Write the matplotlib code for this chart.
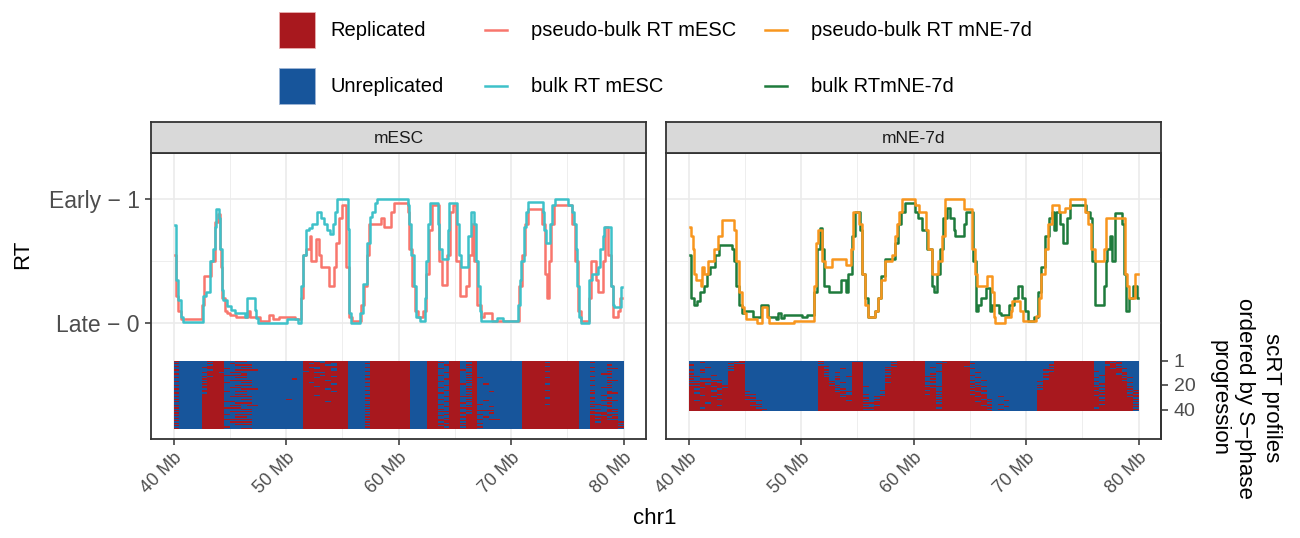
import numpy as np
import matplotlib
matplotlib.use("Agg")
import matplotlib.pyplot as plt
from matplotlib.colors import ListedColormap
from matplotlib.patches import Rectangle
from matplotlib.lines import Line2D

plt.rcParams['font.family'] = ['Liberation Sans', 'DejaVu Sans']

# RT profiles: (position in Mb, RT)
pseudo_mesc = [(40.1, 0.55), (40.3, 0.22), (40.5, 0.1), (40.8, 0.03), (42.45, 0.03), (42.55, 0.15), (42.85, 0.38),
               (43.3, 0.38), (43.45, 0.5), (43.9, 0.82), (44.05, 0.88), (44.2, 0.6), (44.25, 0.45), (44.45, 0.2),
               (44.65, 0.1), (44.95, 0.08), (45.1, 0.07), (46.0, 0.05), (46.55, 0.05), (46.7, 0.1), (46.85, 0.05),
               (47.6, 0.05), (47.75, 0.02), (48.35, 0.02), (48.65, 0.07), (48.95, 0.03), (49.25, 0.03), (49.5, 0.05),
               (50.7, 0.05), (50.85, 0.03), (51.3, 0.03), (51.45, 0.2), (51.65, 0.55), (51.9, 0.6), (52.05, 0.6),
               (52.15, 0.7), (52.35, 0.5), (52.5, 0.5), (52.8, 0.68), (53.0, 0.55), (53.2, 0.45), (53.65, 0.45),
               (53.95, 0.3), (54.2, 0.3), (54.25, 0.45), (54.55, 0.65), (54.85, 0.85), (55.1, 0.95), (55.3, 0.95),
               (55.45, 0.45), (55.75, 0.05), (55.9, 0.02), (56.5, 0.02), (56.8, 0.15), (57.05, 0.3), (57.3, 0.55),
               (57.5, 0.8), (58.4, 0.8), (58.55, 0.85), (58.85, 0.78), (59.15, 0.78), (59.45, 0.9), (59.75, 0.97),
               (60.75, 0.97), (60.9, 0.9), (61.05, 0.6), (61.35, 0.3), (61.65, 0.1), (61.8, 0.05), (62.1, 0.05),
               (62.25, 0.1), (62.55, 0.4), (62.85, 0.75), (63.15, 0.95), (63.45, 0.95), (63.75, 0.5), (63.9, 0.31),
               (64.25, 0.31), (64.45, 0.55), (64.75, 0.9), (64.95, 0.95), (65.35, 0.5), (65.65, 0.22), (65.95, 0.22),
               (66.1, 0.3), (66.4, 0.55), (66.65, 0.8), (66.85, 0.5), (67.15, 0.15), (67.45, 0.05), (67.7, 0.08),
               (68.15, 0.08), (68.45, 0.02), (70.55, 0.02), (70.85, 0.3), (71.1, 0.55), (71.4, 0.8), (71.7, 0.92),
               (72.6, 0.92), (72.9, 0.8), (73.15, 0.4), (73.25, 0.2), (73.45, 0.5), (73.65, 0.8), (73.95, 0.95),
               (75.25, 0.95), (75.55, 0.8), (75.8, 0.5), (76.1, 0.1), (76.3, 0.02), (76.9, 0.02), (77.05, 0.2),
               (77.2, 0.5), (77.5, 0.5), (77.65, 0.35), (77.8, 0.25), (78.1, 0.25), (78.2, 0.5), (78.5, 0.78),
               (78.8, 0.55), (78.95, 0.3), (79.1, 0.05), (79.4, 0.05), (79.55, 0.1), (79.85, 0.2)]

bulk_mesc = [(40.1, 0.79), (40.3, 0.35), (40.5, 0.19), (40.8, 0.05), (40.95, 0.01), (42.55, 0.01), (42.7, 0.22),
             (43.0, 0.25), (43.45, 0.5), (43.6, 0.6), (43.7, 0.78), (43.9, 0.92), (44.1, 0.85), (44.2, 0.6),
             (44.35, 0.27), (44.5, 0.19), (44.95, 0.14), (45.25, 0.11), (45.7, 0.08), (46.25, 0.08), (46.4, 0.05),
             (46.6, 0.2), (47.15, 0.2), (47.3, 0.11), (47.45, 0.04), (47.6, 0.0), (50.1, 0.0), (50.15, 0.03),
             (51.0, 0.03), (51.15, 0.0), (51.3, 0.0), (51.45, 0.3), (51.65, 0.55), (51.85, 0.75), (52.2, 0.77),
             (52.5, 0.8), (52.95, 0.9), (53.2, 0.85), (53.5, 0.8), (53.8, 0.75), (54.1, 0.72), (54.25, 0.8),
             (54.4, 0.9), (54.6, 1.0), (55.45, 1.0), (55.5, 0.76), (55.7, 0.08), (55.9, 0.0), (56.5, 0.0),
             (56.65, 0.08), (57.05, 0.32), (57.35, 0.65), (57.5, 0.86), (57.8, 0.9), (58.05, 0.97), (58.1, 1.0),
             (60.75, 1.0), (60.9, 0.95), (61.05, 0.8), (61.2, 0.55), (61.5, 0.3), (61.65, 0.05), (62.25, 0.02),
             (62.4, 0.2), (62.55, 0.5), (62.7, 0.8), (62.85, 0.97), (63.45, 0.97), (63.5, 0.8), (63.75, 0.6),
             (63.9, 0.52), (64.3, 0.52), (64.45, 0.75), (64.6, 0.97), (65.2, 0.97), (65.25, 0.8), (65.5, 0.55),
             (65.65, 0.45), (66.1, 0.45), (66.25, 0.7), (66.65, 0.9), (66.85, 0.8), (67.0, 0.5), (67.15, 0.3),
             (67.3, 0.1), (67.45, 0.02), (68.5, 0.02), (69.0, 0.04), (69.5, 0.02), (70.5, 0.02), (70.7, 0.15),
             (70.85, 0.35), (71.0, 0.5), (71.25, 0.78), (71.4, 0.9), (71.55, 0.98), (72.75, 0.98), (72.9, 0.9),
             (73.05, 0.75), (73.2, 0.65), (73.35, 0.65), (73.5, 0.8), (73.8, 0.95), (74.1, 1.0), (74.95, 1.0),
             (75.25, 0.95), (75.55, 0.9), (75.7, 0.8), (75.85, 0.6), (75.95, 0.3), (76.15, 0.05), (76.3, 0.0),
             (76.9, 0.0), (77.05, 0.35), (77.35, 0.4), (77.65, 0.4), (77.8, 0.45), (78.1, 0.6), (78.2, 0.7),
             (78.35, 0.78), (78.8, 0.78), (78.95, 0.3), (79.1, 0.15), (79.25, 0.13), (79.7, 0.13), (79.85, 0.29)]

pseudo_mne = [(40.15, 0.78), (40.3, 0.7), (40.45, 0.6), (40.6, 0.4), (40.75, 0.35), (41.05, 0.35), (41.2, 0.3),
              (41.25, 0.45), (41.5, 0.4), (42.05, 0.5), (42.5, 0.6), (42.8, 0.7), (43.1, 0.83), (43.85, 0.83),
              (44.15, 0.75), (44.35, 0.5), (44.6, 0.25), (44.9, 0.13), (45.05, 0.08), (45.2, 0.03), (46.05, 0.03),
              (46.2, 0.0), (46.5, 0.0), (46.65, 0.13), (46.9, 0.13), (47.1, 0.05), (47.25, 0.0), (49.3, 0.0),
              (49.45, 0.02), (51.1, 0.02), (51.25, 0.3), (51.4, 0.65), (51.7, 0.75), (52.0, 0.5), (52.3, 0.45),
              (52.7, 0.45), (52.85, 0.52), (53.9, 0.52), (54.05, 0.47), (54.35, 0.47), (54.5, 0.6), (54.8, 0.9),
              (55.1, 0.9), (55.25, 0.8), (55.55, 0.4), (55.85, 0.15), (56.1, 0.05), (56.4, 0.05), (56.7, 0.1),
              (57.0, 0.2), (57.3, 0.35), (57.6, 0.5), (58.05, 0.5), (58.2, 0.55), (58.5, 0.7), (58.65, 0.8),
              (58.85, 0.9), (59.1, 1.0), (60.1, 1.0), (60.25, 0.95), (60.7, 0.9), (61.0, 0.9), (61.15, 0.75),
              (61.45, 0.6), (61.75, 0.4), (62.05, 0.4), (62.35, 0.5), (62.65, 0.7), (63.0, 1.0), (64.4, 1.0),
              (64.55, 0.92), (65.15, 0.92), (65.3, 0.6), (65.6, 0.4), (65.75, 0.3), (66.5, 0.3), (66.6, 0.38),
              (66.9, 0.38), (67.05, 0.25), (67.2, 0.05), (67.35, 0.0), (67.95, 0.0), (68.25, 0.05), (68.55, 0.05),
              (68.7, 0.1), (68.85, 0.18), (69.3, 0.18), (69.6, 0.1), (69.9, 0.02), (70.75, 0.02), (71.05, 0.06),
              (71.2, 0.2), (71.5, 0.4), (71.8, 0.6), (72.1, 0.8), (72.55, 0.95), (72.85, 0.95), (73.0, 0.9),
              (73.3, 0.9), (73.6, 0.93), (74.15, 1.0), (75.2, 1.0), (75.35, 0.9), (75.65, 0.8), (75.95, 0.6),
              (76.25, 0.5), (76.85, 0.5), (77.0, 0.6), (77.15, 0.85), (78.75, 0.85), (78.9, 0.4), (79.05, 0.3),
              (79.2, 0.2), (79.5, 0.2), (79.95, 0.4)]

bulk_mne = [(40.15, 0.55), (40.3, 0.2), (40.6, 0.15), (40.9, 0.18), (41.2, 0.25), (41.5, 0.3), (41.8, 0.4),
            (42.05, 0.45), (42.2, 0.45), (42.5, 0.55), (42.95, 0.63), (43.85, 0.63), (43.95, 0.6), (44.15, 0.5),
            (44.35, 0.3), (44.6, 0.15), (44.9, 0.08), (45.2, 0.1), (45.6, 0.1), (45.9, 0.05), (46.2, 0.05),
            (46.65, 0.15), (46.95, 0.15), (47.25, 0.05), (47.7, 0.05), (47.85, 0.03), (48.0, 0.08), (48.15, 0.08),
            (48.3, 0.04), (48.6, 0.07), (49.9, 0.07), (50.2, 0.05), (50.8, 0.07), (51.1, 0.07), (51.25, 0.25),
            (51.55, 0.6), (51.75, 0.77), (52.0, 0.6), (52.15, 0.3), (52.45, 0.3), (52.6, 0.25), (53.45, 0.25),
            (53.6, 0.35), (53.9, 0.35), (54.05, 0.25), (54.35, 0.4), (54.65, 0.7), (55.0, 0.9), (55.2, 0.9),
            (55.3, 0.75), (55.55, 0.4), (55.85, 0.2), (56.1, 0.05), (56.4, 0.05), (56.7, 0.1), (57.0, 0.2),
            (57.3, 0.38), (57.6, 0.52), (58.2, 0.52), (58.5, 0.65), (58.8, 0.8), (59.0, 0.9), (59.4, 0.97),
            (59.95, 0.97), (60.25, 0.9), (60.55, 0.85), (61.0, 0.75), (61.45, 0.6), (61.75, 0.3), (61.9, 0.25),
            (62.2, 0.4), (62.5, 0.6), (62.8, 0.85), (63.1, 0.93), (63.35, 0.85), (63.5, 0.85), (63.65, 0.75),
            (63.8, 0.7), (64.4, 0.7), (64.55, 0.8), (64.85, 0.9), (65.15, 0.9), (65.45, 0.5), (65.6, 0.1),
            (65.9, 0.15), (66.05, 0.2), (66.35, 0.2), (66.6, 0.28), (66.75, 0.28), (66.9, 0.1), (67.05, 0.15),
            (67.5, 0.15), (67.65, 0.08), (67.95, 0.07), (68.4, 0.07), (68.55, 0.15), (68.85, 0.15), (69.1, 0.2),
            (69.45, 0.3), (69.75, 0.2), (70.05, 0.1), (70.35, 0.02), (70.6, 0.02), (70.9, 0.05), (71.2, 0.25),
            (71.5, 0.45), (71.8, 0.7), (72.25, 0.85), (72.4, 0.9), (72.55, 0.75), (72.85, 0.9), (73.15, 0.8),
            (73.45, 0.65), (73.75, 0.85), (74.15, 0.95), (75.2, 0.95), (75.5, 0.9), (75.8, 0.85), (75.95, 0.5),
            (76.25, 0.15), (76.85, 0.15), (77.0, 0.3), (77.15, 0.5), (77.3, 0.6), (77.6, 0.7), (77.75, 0.5),
            (78.05, 0.89), (78.35, 0.89), (78.65, 0.8), (78.75, 0.4), (79.05, 0.1), (79.2, 0.2), (79.8, 0.3),
            (79.95, 0.2)]

# single-cell profiles, 0.5 Mb bins from 40 Mb; X = replicated, . = unreplicated
# each row is split into segments of the widths below (bins)
bin_start = 40.0
bin_size = 0.5
mesc_widths = [5, 4, 6, 8, 8, 3, 1, 7, 3, 2, 2, 2, 4, 7, 10, 2, 6]
mesc_cells = [
    "X.... .XXX ..XX.. ........ XX..XXXX ... . XXXXXXX ... XX .. XX .XX. ....... XXXXXXXXXX .. ......",
    "..... ..XX ...... ........ XXX.XXXX ... . XXXXXXX ... XX X. XX ..X. ....... XXXX.XXXXX .. X.....",
    "X.... .XXX .X.... ........ X.XXX.XX ... X XXXXXXX ... XX .. XX ..X. ....... XXXXXXXXXX .. ......",
    "..... ..XX ..XXX. ........ XXXX..XX ... . XXXXXXX ... XX .X XX .XX. ....... XXXXXXXXXX .. ...X..",
    "X.... .XXX ...... ........ XXXXXXXX ... . XXXXXXX ... XX .. XX ..X. ....... XXXX.XXXXX .. ......",
    "..... XXXX ...XX. ........ X..XXXXX ... X XXXXXXX ... XX .. XX .XX. ....... XXXXXXXXXX .. X.....",
    "..... .XXX X..... ........ XX.XX.XX ... . XXXXXXX ... XX X. XX ..X. ....... XXXXXXXXXX .. ...XX.",
    "X.... ..XX ..XXXX ........ XXXXX.XX ... . XXXXXXX ... XX .. XX X.X. ....... XXXXXXXXXX .. ......",
    "..... .XXX ...... ........ .XXXXXXX ... X XXXXXXX ... XX .. XX ..X. ....... XXXX.XXXXX .. X..X..",
    "..... XXX. .XX... ........ XX..XXXX ... . XXXXXXX ... XX .X XX .XX. ....... XXXXXXXXXX .. ......",
    "X.... .XXX ...X.. ........ XXXXXXXX ... . XXXXXXX ... XX .. XX ..X. ....... XXXXXXXXXX .. ..XX..",
    "..... .XXX XXXX.. ........ XXX.XXXX ... X XXXXXXX ... XX X. XX .XX. ....... XXXXXXXXXX .. ......",
    "..... X.XX ...... ........ XXXXX.XX ... . XXXXXXX ... XX .. XX ..X. ....... XXXXXXXXXX .. X.....",
    "X.... .XXX ..XX.. ........ XX.XXXXX ... . XXXXXXX ... XX .. XX .XXX ....... XXXX.XXXXX .. ...X..",
    "..... XXXX ...... ......X. XXXXXXXX ... X XXXXXXX ... XX .X XX ..X. ....... XXXXXXXXXX .. ......",
    "..... .XXX .XXXX. ........ XXXX.XXX ... . XXXXXXX ... XX .. XX .XX. ....... XXXXXXXXXX .. X..XX.",
    "X.... XXXX ...... ........ XXXXXXXX ... . XXXXXXX ... XX X. XX ..X. ....... XXXXXXXXXX .. ......",
    "..... .XXX X..XX. ........ X.XXXXXX ... X XXXXXXX ... XX .. XX .XX. ....... XXXXXXXXXX .. ...X..",
    "..... XXXX ...... ........ XXXXX.XX ... . XXXXXXX ... XX .. XX X.X. X...... XXXX.XXXXX .. ......",
    "X.... .XXX ..XXX. ........ XXXXXXXX ... . XXXXXXX ... XX .X XX ..X. ....... XXXXXXXXXX .. X..X..",
    "..... XXXX ...... ........ XX.XXXXX ... X XXXXXXX ... XX .. XX .XX. ....... XXXXXXXXXX .. ......",
    "..... XXXX .XX... ........ XXXXXXXX ... . XXXXXXX ... XX X. XX ..X. ....... XXXXXXXXXX .. ..XX..",
    "X.... .XXX ...XXX ........ XXXX.XXX ... . XXXXXXX ... XX .. XX .XX. ....... XXXXXXXXXX .. ......",
    "..... XXXX ...... ........ XXXXXXXX ... X XXXXXXX ... XX .X XX ..X. ....... XXXX.XXXXX .. X.....",
    "..... XXXX X.XX.. ........ XXXXX.XX ... . XXXXXXX ... XX .. XX .XX. .X..... XXXXXXXXXX .. ...X..",
    "X.... .XXX ...... ........ XXXXXXXX ... . XXXXXXX ... XX X. XX ..X. ....... XXXXXXXXXX .. X..XX.",
    "..... XXXX ..XX.. ........ XXXXXXXX ... X XXXXXXX ... XX .. XX .XX. ....... XXXXXXXXXX .. ......",
    "..... XXXX ...... ........ XX.XXXXX ... . XXXXXXX ... XX .. XX ..X. ....... XXXXXXXXXX .. ..X...",
    "X.... XXXX .XXXX. ........ XXXXXXXX ... . XXXXXXX ... XX .X XX XXX. ....... XXXXXXXXXX .. ......",
    "..... XXXX ...... ........ XXXXXXXX ... X XXXXXXX ... XX .. XX ..X. ....... XXXX.XXXXX .. X..X..",
    "X.... XXXX ...XX. .....X.. XXXXXXXX ... . XXXXXXX ... XX X. XX .XX. ....... XXXXXXXXXX .. ......",
    "..... XXXX ...... ........ XXXXXXXX ... X XXXXXXX ... XX .. XX ..X. X...... XXXXXXXXXX .. ..XXX.",
    "X.... XXXX XX.... ........ XXXX.XXX ... . XXXXXXX ... XX .X XX .XX. ....... XXXXXXXXXX .. X.....",
    "..... XXXX ..XXX. ........ XXXXXXXX ... . XXXXXXX ... XX .. XX X.X. ....... XXXXXXXXXX .. ...X..",
    "..... XXXX ...... ........ XXXXXXXX ... X XXXXXXX ... XX X. XX ..XX ....... XXXX.XXXXX .. XX....",
    "X.... XXXX .XX.XX ........ XXXXXXXX ... . XXXXXXX ... XX .. XX .XX. ....... XXXXXXXXXX .. ..XX..",
    "..... XXXX ...... ........ XXXXXXXX ... X XXXXXXX ... XX .X XX ..X. .X..... XXXXXXXXXX .. X..X..",
    "X.... XXXX XXX... ........ XXXXXXXX ... . XXXXXXX ... XX .. XX XXX. ....... XXXXXXXXXX .. ......",
    "..... XXXX ...XX. ........ XXXXXXXX ... X XXXXXXX ... XX X. XX .XX. ....... XXXXXXXXXX .. XX.XX.",
    "X.... XXXX ...... ........ XXXXXXXX ... . XXXXXXX ... XX .. XX ..XX XX..... XXXXXXXXXX .. ...X..",
    "..... XXXX .XXXX. ........ XXXXXXXX ... X XXXXXXX ... XX XX XX .XX. ....... XXXXXXXXXX .. X..XX.",
    "X.... XXXX ...... ........ XXXXXXXX ... . XXXXXXX ... XX .. XX X.X. .X..... XXXXXXXXXX .. XXX...",
    "..... XXXX X.XXX. ........ XXXXXXXX ... X XXXXXXX ... XX .X XX .XXX ....... XXXXXXXXXX .. ..XXX.",
    "X.... XXXX ...... ........ XXXXXXXX ... . XXXXXXX ... XX X. XX .XX. ....... XXXXXXXXXX .. X..X..",
    "..... XXXX ..XX.. ........ XXXXXXXX ... X XXXXXXX ... XX .. XX XXX. X...... XXXXXXXXXX .. XXX.X.",
    "X.... XXXX ...... ........ XXXXXXXX ... . XXXXXXX ... XX .X XX .XX. ....... XXXXXXXXXX .. X.XXX.",
    "..... XXXX XXXXX. ........ XXXXXXXX ... X XXXXXXX ... XX X. XX .XXX .XX.... XXXXXXXXXX .. XXX...",
    "X.... XXXX ...... ........ XXXXXXXX ... . XXXXXXX ... XX XX XX XXX. ....... XXXXXXXXXX .. XXXXX.",
    "..... XXXX .XXXX. ........ XXXXXXXX ... X XXXXXXX ... XX .X XX .XX. ....... XXXXXXXXXX .. X.XXXX",
    "X.... XXXX ...... ........ XXXXXXXX ... . XXXXXXX ... XX X. XX XXXX ....... XXXXXXXXXX .. XXXXX.",
    "..... XXXX ..XXX. ........ XXXXXXXX ... X XXXXXXX ... XX XX XX .XX. ....... XXXXXXXXXX .. XXXXXX",
    "X.... XXXX ...... ........ XXXXXXXX ... . XXXXXXX ... XX .X XX XXX. ....... XXXXXXXXXX .. XXXXX.",
    "..... XXXX X..... ........ XXXXXXXX ... X XXXXXXX ... XX X. XX .XXX ....... XXXXXXXXXX .. XXXXXX",
    "X.... XXXX ...XX. ........ XXXXXXXX ... . XXXXXXX ... XX XX XX XXX. ....... XXXXXXXXXX .. XXXXX.",
]
mne_widths = [7, 3, 13, 9, 3, 3, 4, 3, 5, 5, 7, 3, 7, 2, 6]
mne_cells = [
    "....... ..X ............. X........ ... ..X XXXX ... XXXXX ..... ....... ... XXXXXXX .. XX....",
    "..X.... .XX ............. ......XX. ... .XX XXXX ... .XXXX ..... ....... ... XXXXXXX .. X.X...",
    "....... X.. ............. X.....XX. ... ..X XXXX ..X XXXXX X.... ....... ... XXXXXXX .. XXX...",
    "X...... .XX ............. ......XX. ... .XX XXXX ... XXXXX ..... ....... ..X XXXXXXX .. .X....",
    "....... XXX ............. XX....XX. ... ..X XXXX ... XXXX. ..... ....... ... XXXXXXX .. XXX...",
    "...X... .XX ............. X.....XX. ... XXX XXXX .X. XXXXX ..... ....... ..X XXXXXXX .. XX....",
    "....... XXX ............. X...X.XX. ... .XX XXXX ... XXXXX X.... ....... ... XXXXXXX .. X.XX..",
    "X.X.... .XX ............. XX....XX. ... XXX XXXX ... XXXXX ..... ....... .XX XXXXXXX .. XXX...",
    "....... XXX ............. X.....XX. ... .XX XXXX ..X XXXXX ..... ....... ... XXXXXXX X. XXX...",
    "..X.... XXX ............. XX.X..XX. ... XXX XXXX ... XXXXX .X... ....... ..X XXXXXXX .. XXXX..",
    "X...... XXX ............. X.....XX. ... .XX XXXX .X. XXXXX ..... ....... .XX XXXXXXX .. XX.X..",
    "....X.. XXX ............. XX....XX. ... XXX XXXX ... XXXXX X.... ....... ..X XXXXXXX .X XXX...",
    "XX..... XXX ............. X..X.XXX. ... XXX XXXX XX. XXXXX ..... ....... .XX XXXXXXX .. XXXX..",
    "....... XXX ............. XX....XX. ... .XX XXXX ... XXXXX .X... ....... .XX XXXXXXX X. XXX.X.",
    "X.XX... XXX ............. XX.X..XX. ... XXX XXXX .X. XXXXX ..... ....... ..X XXXXXXX .. XXXX..",
    "....XX. XXX ............. XX....XX. ... XXX XXXX ... XXXXX X.X.. ....... .XX XXXXXXX .. XXX...",
    "XX..... XXX ............. XXX...XX. ... XXX XXXX XX. XXXXX ..... ....... XXX XXXXXXX X. XXXX..",
    "..XXX.. XXX ............. XX..X.XX. ... .XX XXXX .X. XXXXX .X... ....... .XX XXXXXXX .. XXXXX.",
    "XXX.XX. XXX ............. XXX...XX. ... XXX XXXX ... XXXXX X.... ....... .XX XXXXXXX .X XXXX..",
    "..XXXXX XXX ............. XX.X..XX. ... XXX XXXX XX. XXXXX .X... ....... XXX XXXXXXX X. XXXX..",
    "XXXX.XX XXX ............. XXX...XXX ... XXX XXXX .XX XXXXX X.X.. ....... .XX XXXXXXX .. XXXXX.",
    "XX.XXX. XXX ............. XXXX..XX. ... XXX XXXX X.. XXXXX .X... ....... XXX XXXXXXX XX XXXX..",
    "X.XXX.X XXX ............. XXX.X.XX. ... XXX XXXX XX. XXXXX XX... ....... .XX XXXXXXX X. XXXXX.",
    "XXXX.XX XXX ............. XXXX..XX. ..X XXX XXXX .X. XXXXX .XX.. ....... XXX XXXXXXX .X XXXX.X",
    "XXXX.XX XXX X............ XXX.XXXX. ... XXX XXXX XXX XXXXX X.X.. ....... XXX XXXXXXX X. XXXXX.",
    "X.XXXXX XXX ............. XXXXX.XX. ... XXX XXXX XX. XXXXX XX... ....... XXX XXXXXXX XX XXXX.X",
    "XXXXX.X XXX XX........... XXXX..XXX ..X XXX XXXX .XX XXXXX .XX.. ....... XXX XXXXXXX X. XXXXX.",
    "XX.XXXX XXX ............. XXXXXXXX. ... XXX XXXX XX. XXXXX XXX.. ....... XXX XXXXXXX .X XXXXXX",
    "XXXX.XX XXX X............ XXXX.XXX. .XX XXX XXXX XXX XXXXX X.X.. X...... XXX XXXXXXX XX XXXX.X",
    "XXXXXXX XXX XX........... XXXXXXXXX ..X XXX XXXX XX. XXXXX XXX.. ....... XXX XXXXXXX X. XXXXX.",
    "XXXXX.X XXX ............. XXXXXXXX. .XX XXX XXXX XXX XXXXX XX.X. ....... XXX XXXXXXX XX XXXXXX",
    "X.XXXXX XXX XXX.......... XXXXX.XXX ..X XXX XXXX XX. XXXXX XXX.. .X..... XXX XXXXXXX X. XXXXX.",
    "XXXXXXX XXX X............ XXXXXXXX. .XX XXX XXXX XXX XXXXX X.XX. ....... XXX XXXXXXX XX XXXXXX",
    "XXX.XXX XXX XX........... XXXXXXXXX XXX XXX XXXX XX. XXXXX XXX.. ....... XXX XXXXXXX XX XXXXX.",
    "XXXXXXX XXX XXX.......... XXXXXXXX. .XX XXX XXXX XXX XXXXX XXXX. X...... XXX XXXXXXX X. XXXXXX",
    "XXXXX.X XXX X............ XXXXXXXXX ..X XXX XXXX XXX XXXXX XX.X. ....... XXX XXXXXXX XX XXXXX.",
    "XXXXXXX XXX XXX.......... XXXXXXXX. .XX XXX XXXX XXX XXXXX XXX.. .X..... XXX XXXXXXX XX XXXXXX",
    "XX.XXXX XXX XX........... XXXXXXXXX XXX XXX XXXX XX. XXXXX XXXX. ....... XXX XXXXXXX .X XXXXX.",
    "XXXXXXX XXX XXXX......... XXXXXXXX. .XX XXX XXXX XXX XXXXX XXX.. X...... XXX XXXXXXX XX XXXXXX",
    "XXXXXXX XXX XXX.......... XXXXXXXXX XXX XXX XXXX XXX XXXXX XXXX. ....... XXX XXXXXXX XX XXXXX.",
]

x_ticks = [40, 50, 60, 70, 80]
x_minor = [45, 55, 65, 75]
row_ticks = [1, 20, 40]
panels = ["mESC", "mNE-7d"]

red = "#A8181E"
blue = "#17559B"
c_pseudo_mesc = "#F8766D"
c_bulk_mesc = "#3EC1C9"
c_pseudo_mne = "#F8961E"
c_bulk_mne = "#1E7B3C"
dark = "#333333"
grid_c = "#EBEBEB"

heat_top = -0.302
row_h = 0.0102


def to_matrix(rows, widths):
    mat = []
    for r in rows:
        segs = r.split()
        line = "".join(s.ljust(w, ".")[:w] for s, w in zip(segs, widths))
        mat.append([1.0 if c == "X" else 0.0 for c in line])
    return np.array(mat)


W, H = 1300, 538
fig = plt.figure(figsize=(W / 100, H / 100), dpi=100)

def fx(px):
    return px / W

def fy(py):
    return 1 - py / H

panel_top, panel_bot = 153, 438.5
lefts = [151, 666]
pw = 495
series = [(pseudo_mesc, bulk_mesc, c_pseudo_mesc, c_bulk_mesc, mesc_cells, mesc_widths),
          (bulk_mne, pseudo_mne, c_bulk_mne, c_pseudo_mne, mne_cells, mne_widths)]
cmap = ListedColormap([blue, red])

for i, (name, (s1, s2, col1, col2, cells, widths)) in enumerate(zip(panels, series)):
    ax = fig.add_axes([fx(lefts[i]), fy(panel_bot), pw / W, (panel_bot - panel_top) / H])
    ax.set_xlim(38, 82)
    ax.set_ylim(-0.93, 1.373)
    ax.set_xticks(x_ticks)
    ax.set_xticks(x_minor, minor=True)
    ax.set_yticks([0, 1])
    ax.set_yticks([0.5], minor=True)
    ax.grid(True, which="major", color=grid_c, lw=1.2, zorder=0)
    ax.grid(True, which="minor", color=grid_c, lw=0.6, zorder=0)
    ax.set_axisbelow(True)
    ax.tick_params(which="minor", length=0)
    ax.tick_params(which="major", length=4.5, width=1.1, color=dark, labelcolor="#4D4D4D")
    ax.set_xticklabels([f"{t} Mb" for t in x_ticks], rotation=45, ha="right",
                       rotation_mode="anchor", fontsize=13)
    if i == 0:
        ax.set_yticklabels(["Late \u2212 0", "Early \u2212 1"], fontsize=16.5)
    else:
        ax.set_yticklabels([])
        ax.tick_params(axis="y", length=0)
    for sp in ax.spines.values():
        sp.set_color(dark)
        sp.set_linewidth(1.3)

    a1 = np.array(s1).T
    a2 = np.array(s2).T
    ax.plot(a1[0], a1[1], color=col1, lw=1.8, drawstyle="steps-mid", zorder=3)
    ax.plot(a2[0], a2[1], color=col2, lw=1.8, drawstyle="steps-mid", zorder=4)

    mat = to_matrix(cells, widths)
    xe = bin_start + bin_size * np.arange(mat.shape[1] + 1)
    ye = heat_top - row_h * np.arange(mat.shape[0] + 1)
    ax.pcolormesh(xe, ye, mat, cmap=cmap, vmin=0, vmax=1, zorder=2)

    if i == 1:
        sec = ax.secondary_yaxis("right", functions=(lambda y: 1 + (heat_top - y) / row_h,
                                                      lambda r: heat_top - (r - 1) * row_h))
        sec.set_yticks(row_ticks)
        sec.set_yticklabels([str(r) for r in row_ticks], fontsize=14, color="#4D4D4D")
        sec.tick_params(length=5, width=1.1, color=dark, pad=4)
        sec.spines["right"].set_color(dark)
        sec.spines["right"].set_linewidth(1.3)

    # facet strip
    st = fig.add_axes([fx(lefts[i]), fy(panel_top), pw / W, 31 / H])
    st.set_facecolor("#D9D9D9")
    st.set_xticks([])
    st.set_yticks([])
    for sp in st.spines.values():
        sp.set_color(dark)
        sp.set_linewidth(1.3)
    st.text(0.5, 0.47, name, ha="center", va="center", fontsize=12.5, color="#1A1A1A",
            transform=st.transAxes)

fig.text(fx(23), fy(254), "RT", rotation=90, ha="center", va="center", fontsize=16)
fig.text(fx(655), fy(518), "chr1", ha="center", va="center", fontsize=16)
fig.text(fx(1245), fy(398), "scRT profiles\nordered by S\u2212phase\nprogression", rotation=-90,
         ha="center", va="center", multialignment="center", fontsize=16, linespacing=1.32)

# legend
leg_fs = 14.5
for label, col, yc in [("Replicated", red, 30), ("Unreplicated", blue, 86)]:
    fig.add_artist(Rectangle((fx(279), fy(yc + 18)), 36 / W, 36 / H, facecolor=col,
                             edgecolor="#E8B0B0" if col == red else "#9FB5D5", lw=0.6,
                             transform=fig.transFigure))
    fig.text(fx(330), fy(yc + 1), label, ha="left", va="center", fontsize=leg_fs)

for label, col, x0, yc in [("pseudo-bulk RT mESC", c_pseudo_mesc, 485, 30),
                           ("bulk RT mESC", c_bulk_mesc, 485, 86),
                           ("pseudo-bulk RT mNE-7d", c_pseudo_mne, 765, 30),
                           ("bulk RTmNE-7d", c_bulk_mne, 765, 86)]:
    fig.add_artist(Line2D([fx(x0), fx(x0 + 22)], [fy(yc), fy(yc)], color=col, lw=1.8,
                          transform=fig.transFigure))
    fig.text(fx(x0 + 46), fy(yc + 1), label, ha="left", va="center", fontsize=leg_fs)

fig.savefig("out.png", dpi=100)
